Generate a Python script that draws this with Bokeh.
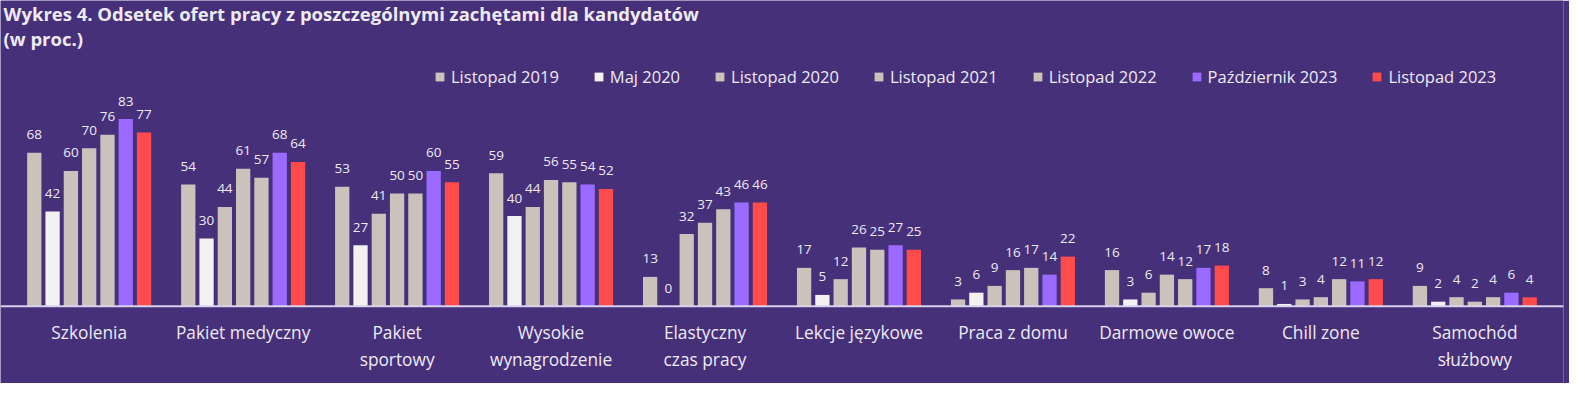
from bokeh.plotting import figure
from bokeh.models import ColumnDataSource, Label, Range1d, FactorRange, Span
from bokeh.transform import dodge
from bokeh.core.properties import value
from bokeh.embed import file_html
from bokeh.resources import INLINE

categories = ["Szkolenia", "Pakiet medyczny", "Pakiet sportowy", "Wysokie wynagrodzenie",
              "Elastyczny czas pracy", "Lekcje językowe", "Praca z domu", "Darmowe owoce",
              "Chill zone", "Samochód służbowy"]
label_line1 = ["Szkolenia", "Pakiet medyczny", "Pakiet", "Wysokie", "Elastyczny",
               "Lekcje językowe", "Praca z domu", "Darmowe owoce", "Chill zone", "Samochód"]
label_line2 = ["", "", "sportowy", "wynagrodzenie", "czas pracy", "", "", "", "", "służbowy"]
series_names = ["Listopad 2019", "Maj 2020", "Listopad 2020", "Listopad 2021",
                "Listopad 2022", "Październik 2023", "Listopad 2023"]
listopad_2019 = [68, 54, 53, 59, 13, 17, 3, 16, 8, 9]
maj_2020 = [42, 30, 27, 40, 0, 5, 6, 3, 1, 2]
listopad_2020 = [60, 44, 41, 44, 32, 12, 9, 6, 3, 4]
listopad_2021 = [70, 61, 50, 56, 37, 26, 16, 14, 4, 2]
listopad_2022 = [76, 57, 50, 55, 43, 25, 17, 12, 12, 4]
pazdziernik_2023 = [83, 68, 60, 54, 46, 27, 14, 17, 11, 6]
listopad_2023 = [77, 64, 55, 52, 46, 25, 22, 18, 12, 4]
series_values = [listopad_2019, maj_2020, listopad_2020, listopad_2021,
                 listopad_2022, pazdziernik_2023, listopad_2023]
colors = ["#cac2bb", "#f3f1f1", "#cac2bb", "#cac2bb", "#cac2bb", "#9b6bff", "#ff4b4b"]

BG = "#46307a"
TXT = "#eeeaf4"
FONT = "Open Sans"

W, H = 1569, 383
base_y = 305.7          # baseline position in px from top
px_per_unit = 2.255
p = figure(width=W, height=H,
           x_range=FactorRange(*categories, range_padding=0.076, range_padding_units="absolute"),
           y_range=Range1d(-(H - base_y) / px_per_unit, base_y / px_per_unit),
           output_backend="svg", toolbar_location=None,
           min_border_left=0, min_border_right=6, min_border_top=0, min_border_bottom=0)
p.background_fill_color = BG
p.border_fill_color = BG
p.outline_line_color = None
p.grid.visible = False
p.axis.visible = False

data = {"cat": categories, "l1": label_line1, "l2": label_line2, "zero": [0] * len(categories)}
for i, vals in enumerate(series_values):
    data[f"v{i}"] = vals
    data[f"t{i}"] = [str(v) for v in vals]
src = ColumnDataSource(data)

step = 18.3 / 154.0
bw = 14.3 / 154.0
for i, name in enumerate(series_names):
    off = (i - 3) * step
    p.vbar(x=dodge("cat", off, range=p.x_range), top=f"v{i}", width=bw, source=src,
           fill_color=colors[i], line_color=None, legend_label=name)
    p.text(x=dodge("cat", off, range=p.x_range), y=f"v{i}", text=f"t{i}", source=src,
           text_align="center", text_baseline="middle", y_offset=-18,
           text_color=TXT, text_font_size="13.5px", text_font=value(FONT))

# baseline
p.add_layout(Span(location=0, dimension="width", line_color="#d9d2ee", line_width=2))

# category labels
p.text(x="cat", y="zero", text="l1", source=src, text_align="center", text_baseline="middle",
       y_offset=26, text_color=TXT, text_font_size="17.3px", text_font=value(FONT))
p.text(x="cat", y="zero", text="l2", source=src, text_align="center", text_baseline="middle",
       y_offset=53, text_color=TXT, text_font_size="17.3px", text_font=value(FONT))

lg = p.legend[0]
lg.orientation = "horizontal"
lg.location = (434, 295)
lg.background_fill_alpha = 0
lg.border_line_color = None
lg.padding = 0
lg.margin = 0
lg.spacing = 34
lg.glyph_width = 11
lg.glyph_height = 11
lg.label_standoff = 6
lg.label_height = 11
lg.label_text_color = TXT
lg.label_text_font = FONT
lg.label_text_font_size = "16.5px"

t1 = Label(x=3, y=H - 13, x_units="screen", y_units="screen",
           text="Wykres 4. Odsetek ofert pracy z poszczególnymi zachętami dla kandydatów",
           text_baseline="middle", text_color=TXT, text_font=FONT,
           text_font_size="18.5px", text_font_style="bold")
t2 = Label(x=3, y=H - 38, x_units="screen", y_units="screen",
           text="(w proc.)", text_baseline="middle", text_color=TXT, text_font=FONT,
           text_font_size="18.5px", text_font_style="bold")
p.add_layout(t1)
p.add_layout(t2)

open("out.html", "w").write(file_html(p, INLINE))
